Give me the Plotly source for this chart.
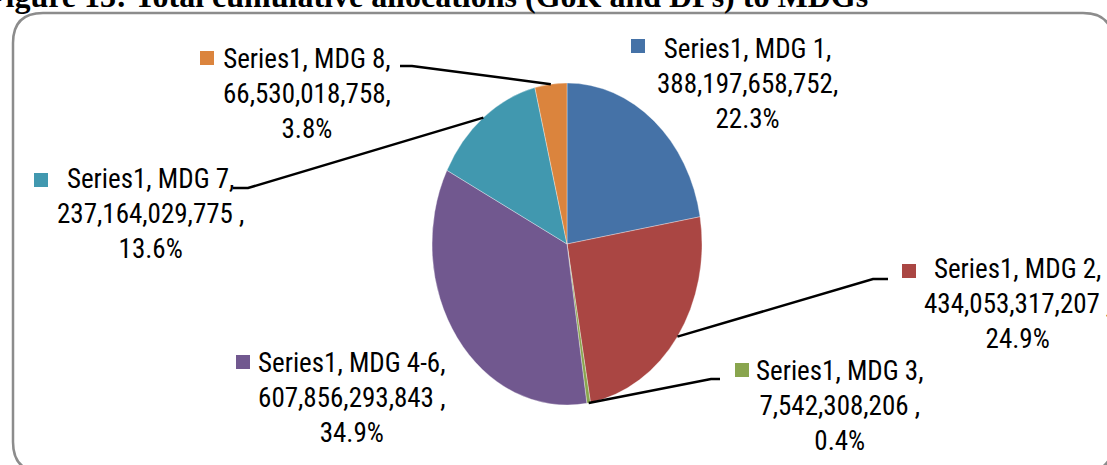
import math
import plotly.graph_objects as go

# ---- data ----
categories = ["MDG 1", "MDG 2", "MDG 3", "MDG 4-6", "MDG 7", "MDG 8"]
values = [388197658752, 434053317207, 7542308206, 607856293843, 237164029775, 66530018758]
series_name = "Series1"
value_suffix = [",", " ,", " ,", " ,", " ,", ","]
colors = ["#4572A7", "#AA4643", "#89A54E", "#71588F", "#4198AF", "#DB843D"]
title_text = "Figure 13: Total cumulative allocations (GoK and DPs) to MDGs"

# ---- layout geometry (pixels) ----
W, H = 1107, 465
CX, CY, RX, RY = 567, 244, 135, 161

def px(x):
    return x / W

def py(y):
    return 1 - y / H

# label centres (x, baseline of middle line), legend-key square (x, y)
label_pos = [(747, 93), (1017, 313), (839, 415), (352, 407), (150, 223), (307, 103)]
key_pos = [(631, 39), (902, 264), (735, 363), (236, 355), (34, 173), (200, 51)]
# leader lines: label-side points (outer, inner) or None
leader_ends = [None, ((888, 279), (873, 279)), ((720, 379), (711, 379)), None,
               ((233, 188), (248, 188)), ((400, 66), (412, 66))]

total = sum(values)
fig = go.Figure()
fig.add_trace(go.Pie(
    labels=categories, values=values, sort=False, direction="clockwise", rotation=0,
    marker=dict(colors=colors, line=dict(color="rgba(255,255,255,0.6)", width=0.6)),
    textinfo="none", showlegend=False, hoverinfo="label+value+percent",
    domain=dict(x=[px(CX - 200), px(CX + 200)], y=[py(CY + RY), py(CY - RY)]),
))

annotations = []
shapes = []
font_fam = "Liberation Sans Narrow, Arial Narrow, Roboto Condensed, Roboto, sans-serif"
cum = 0
for i, (cat, v) in enumerate(zip(categories, values)):
    frac = v / total
    mid = (cum + frac / 2) * 2 * math.pi
    cum += frac
    lx, lb = label_pos[i]
    txt = f"{series_name}, {cat},<br>{v:,}{value_suffix[i]}<br>{frac*100:.1f}%"
    annotations.append(dict(
        text=txt, x=px(lx), y=py(lb - 9), xref="paper", yref="paper",
        xanchor="center", yanchor="middle", showarrow=False, align="center",
        font=dict(family=font_fam, size=27, color="#000000"),
    ))
    kx, ky = key_pos[i]
    shapes.append(dict(type="rect", xref="paper", yref="paper",
                       x0=px(kx), x1=px(kx + 14), y0=py(ky), y1=py(ky + 14),
                       fillcolor=colors[i], line=dict(width=0)))
    if leader_ends[i]:
        (ox, oy), (ix, iy) = leader_ends[i]
        ax_ = CX + RX * math.sin(mid)
        ay_ = CY - RY * math.cos(mid)
        path = (f"M {px(ox)},{py(oy)} L {px(ix)},{py(iy)} L {px(ax_)},{py(ay_)}")
        shapes.append(dict(type="path", xref="paper", yref="paper", path=path,
                           line=dict(color="#000000", width=2.5)))

# title (partially cut off at the top, as in the reference)
annotations.append(dict(
    text=f"<b>{title_text}</b>", x=px(-16), y=py(16), xref="paper", yref="paper",
    xanchor="left", yanchor="bottom", showarrow=False,
    font=dict(family="Liberation Serif, Times New Roman, serif", size=32, color="#000000"),
))

# rounded border
x0, y0, x1, y1, r = 13, 13, 1113, 472, 30
bp = (f"M {px(x0)},{py(y0+r)} Q {px(x0)},{py(y0)} {px(x0+r)},{py(y0)} "
      f"L {px(x1-r)},{py(y0)} Q {px(x1)},{py(y0)} {px(x1)},{py(y0+r)} "
      f"L {px(x1)},{py(y1-r)} Q {px(x1)},{py(y1)} {px(x1-r)},{py(y1)} "
      f"L {px(x0+r)},{py(y1)} Q {px(x0)},{py(y1)} {px(x0)},{py(y1-r)} Z")
shapes.insert(0, dict(type="path", xref="paper", yref="paper", path=bp,
                      line=dict(color="#8c8c8c", width=2.5), layer="below"))

fig.update_layout(
    width=W, height=H, margin=dict(l=0, r=0, t=0, b=0),
    paper_bgcolor="#ffffff", plot_bgcolor="#ffffff",
    annotations=annotations, shapes=shapes,
)

sx = RX / RY
post = ("document.body.style.margin='0';"
        "var gd=document.getElementById('{plot_id}');"
        "var L=gd.querySelector('g.pielayer');"
        "if(L){L.setAttribute('transform','translate(" + str(CX) + ",0) scale(" + f"{sx:.4f}" +
        ",1) translate(-" + str(CX) + ",0)');}")
fig.write_html("out.html", post_script=post, config={"displayModeBar": False})
